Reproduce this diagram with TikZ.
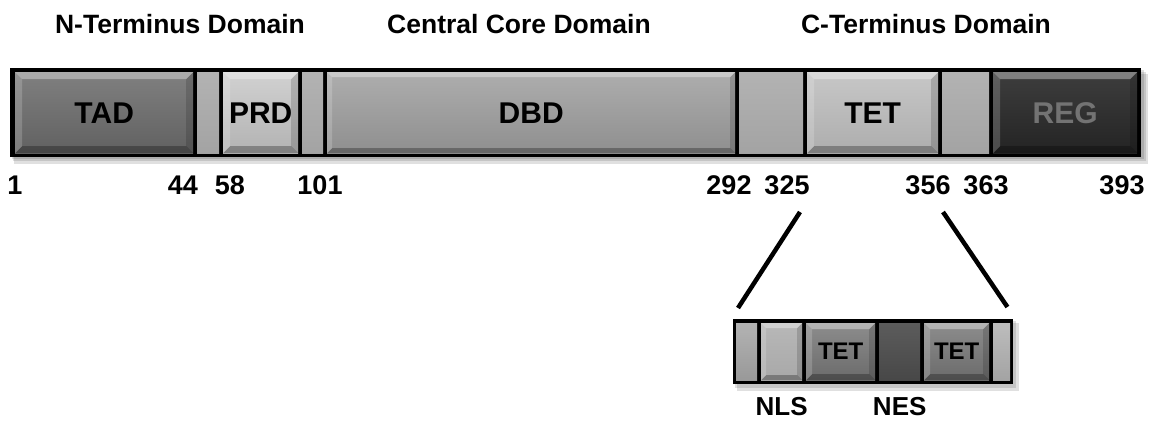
\documentclass[tikz,border=0pt]{standalone}
\usepackage{fontspec}
\setmainfont{Liberation Sans}
\usetikzlibrary{calc}
\begin{document}
\begin{tikzpicture}[x=1pt,y=-1pt,
  frame/.style={fill=black,inner sep=0pt,anchor=north west},
  segbox/.style={inner sep=0pt,anchor=north west,minimum height=#1},
  bevel/.style={path picture={
    \coordinate (bnw) at (path picture bounding box.north west);
    \coordinate (bne) at (path picture bounding box.north east);
    \coordinate (bsw) at (path picture bounding box.south west);
    \coordinate (bse) at (path picture bounding box.south east);
    \fill[white,opacity=.35] (bnw) -- (bne) -- ($(bne)+(-#1,#1)$) -- ($(bnw)+(#1,#1)$) -- cycle;
    \fill[white,opacity=.18] (bnw) -- ($(bnw)+(#1,#1)$) -- ($(bsw)+(#1,-#1)$) -- (bsw) -- cycle;
    \fill[black,opacity=.28] (bsw) -- (bse) -- ($(bse)+(-#1,-#1)$) -- ($(bsw)+(#1,-#1)$) -- cycle;
    \fill[black,opacity=.15] (bne) -- (bse) -- ($(bse)+(-#1,-#1)$) -- ($(bne)+(-#1,#1)$) -- cycle;
  }},
  sepfill/.style={top color=black!30,middle color=white,bottom color=black!36},
  heading/.style={font=\fontsize{26.5}{28}\selectfont\bfseries},
  seglabel/.style={font=\fontsize{30}{32}\selectfont\bfseries},
  smalllabel/.style={font=\fontsize{24}{26}\selectfont\bfseries},
  numlabel/.style={font=\fontsize{27}{29}\selectfont\bfseries},
  shadow/.style={fill=black,opacity=.12}
]
\useasboundingbox (0,0) rectangle (1158,422);

% headings
\node[heading] (hN) at (180,24) {N-Terminus Domain};
\node[heading] (hC) at (519,24) {Central Core Domain};
\node[heading] (hT) at (926,24) {C-Terminus Domain};

% main bar shadow and frame
\fill[shadow] (14,74) rectangle (1148,164);
\fill[shadow] (13,72) rectangle (1146,161);
\fill[shadow] (12,70) rectangle (1144,159);
\node[frame,minimum width=1131,minimum height=89] (bar) at (10,68) {};

% main segments
\node[segbox=81,minimum width=178,top color=black!50,bottom color=black!62,bevel=7] (tad) at (15,72) {};
\node[segbox=81,minimum width=22,sepfill] (sepa) at (197,72) {};
\node[segbox=81,minimum width=75,top color=black!18,middle color=black!8,bottom color=black!30,bevel=7] (prd) at (223,72) {};
\node[segbox=81,minimum width=21,sepfill] (sepb) at (302,72) {};
\node[segbox=81,minimum width=408,top color=black!32,middle color=black!22,bottom color=black!44,bevel=5] (dbd) at (327,72) {};
\node[segbox=81,minimum width=64,sepfill] (sepc) at (739,72) {};
\node[segbox=81,minimum width=131,top color=black!22,middle color=black!12,bottom color=black!32,bevel=7] (tet) at (807,72) {};
\node[segbox=81,minimum width=47,sepfill] (sepd) at (942,72) {};
\node[segbox=81,minimum width=144,top color=black!76,bottom color=black!86,bevel=7] (reg) at (993,72) {};

% segment labels
\node[seglabel] at (tad) {TAD};
\node[seglabel] at (prd) {PRD};
\node[seglabel] at (dbd) {DBD};
\node[seglabel] at (tet) {TET};
\node[seglabel,text=black!55] at (reg) {REG};

% residue numbers
\node[numlabel] (n1) at (15,185) {1};
\node[numlabel] (n44) at (183,185) {44};
\node[numlabel] (n58) at (230,185) {58};
\node[numlabel] (n101) at (320,185) {101};
\node[numlabel] (n292) at (729,185) {292};
\node[numlabel] (n325) at (787,185) {325};
\node[numlabel] (n356) at (928,185) {356};
\node[numlabel] (n363) at (986,185) {363};
\node[numlabel] (n393) at (1122,185) {393};

% inset bar
\fill[shadow] (737,323) rectangle (1019,391);
\fill[shadow] (735,321) rectangle (1016,388);
\node[frame,minimum width=280,minimum height=65] (inset) at (733,319) {};
\node[segbox=57,minimum width=21,top color=black!30,middle color=black!15,bottom color=black!40] (ia) at (736,323) {};
\node[segbox=57,minimum width=41,top color=black!28,middle color=white,bottom color=black!34,bevel=5] (ib) at (761,323) {};
\node[segbox=57,minimum width=69,top color=black!45,bottom color=black!58,bevel=6] (itetA) at (806,323) {};
\node[segbox=57,minimum width=41,top color=black!64,bottom color=black!72] (ines) at (879,323) {};
\node[segbox=57,minimum width=65,top color=black!45,bottom color=black!58,bevel=6] (itetB) at (924,323) {};
\node[segbox=57,minimum width=17,top color=black!26,middle color=black!8,bottom color=black!36] (ic) at (993,323) {};

\node[smalllabel] at (itetA) {TET};
\node[smalllabel] at (itetB) {TET};

\node[smalllabel,font=\fontsize{26}{28}\selectfont\bfseries] (nls) at (ib |- 0,407) {NLS};
\node[smalllabel,font=\fontsize{26}{28}\selectfont\bfseries] (nes) at (ines |- 0,407) {NES};

% zoom lines
\coordinate (za) at (800,212);
\coordinate (zb) at (943,212);
\draw[line width=4.5pt] (za) -- ($(inset.north west)+(5,-11)$);
\draw[line width=4.5pt] (zb) -- ($(inset.north east)+(-6,-12)$);
\end{tikzpicture}
\end{document}
